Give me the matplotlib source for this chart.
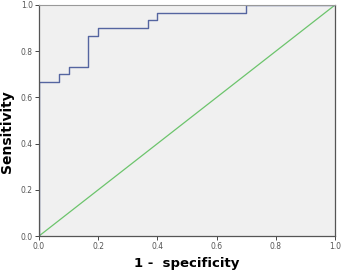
import matplotlib.pyplot as plt

# ROC curve points (1 - specificity, sensitivity)
fpr = [0.0, 0.0, 0.067, 0.067, 0.1, 0.1, 0.167, 0.167, 0.2, 0.2,
       0.367, 0.367, 0.4, 0.4, 0.7, 0.7, 1.0]
tpr = [0.0, 0.667, 0.667, 0.7, 0.7, 0.733, 0.733, 0.867, 0.867, 0.9,
       0.9, 0.933, 0.933, 0.967, 0.967, 1.0, 1.0]
ref_line = [0.0, 1.0]
ticks = [0.0, 0.2, 0.4, 0.6, 0.8, 1.0]

fig = plt.figure(figsize=(3.42, 2.71), dpi=100)
ax = fig.add_axes([0.114, 0.129, 0.866, 0.853])
ax.set_facecolor("#f0f0f0")

ax.plot(ref_line, ref_line, color="#6cc46c", linewidth=0.9)
ax.plot(fpr, tpr, color="#5565a0", linewidth=1.0)

ax.set_xlim(0, 1)
ax.set_ylim(0, 1)
ax.set_xticks(ticks)
ax.set_yticks(ticks)
ax.set_xticklabels([f"{t:.1f}" for t in ticks])
ax.set_yticklabels([f"{t:.1f}" for t in ticks])
ax.tick_params(labelsize=5.5, labelcolor="#555555", length=3, width=0.7,
               color="#444444", pad=1.5)

for side in ["left", "bottom", "right"]:
    ax.spines[side].set_color("#555555")
    ax.spines[side].set_linewidth(0.9)
ax.spines["top"].set_color("#999999")

ax.set_xlabel("1 -  specificity", fontsize=9.5, fontweight="bold", labelpad=4)
ax.set_ylabel("Sensitivity", fontsize=10, fontweight="bold")
ax.yaxis.set_label_coords(-0.085, 0.45)

fig.savefig("out.png", dpi=100)
